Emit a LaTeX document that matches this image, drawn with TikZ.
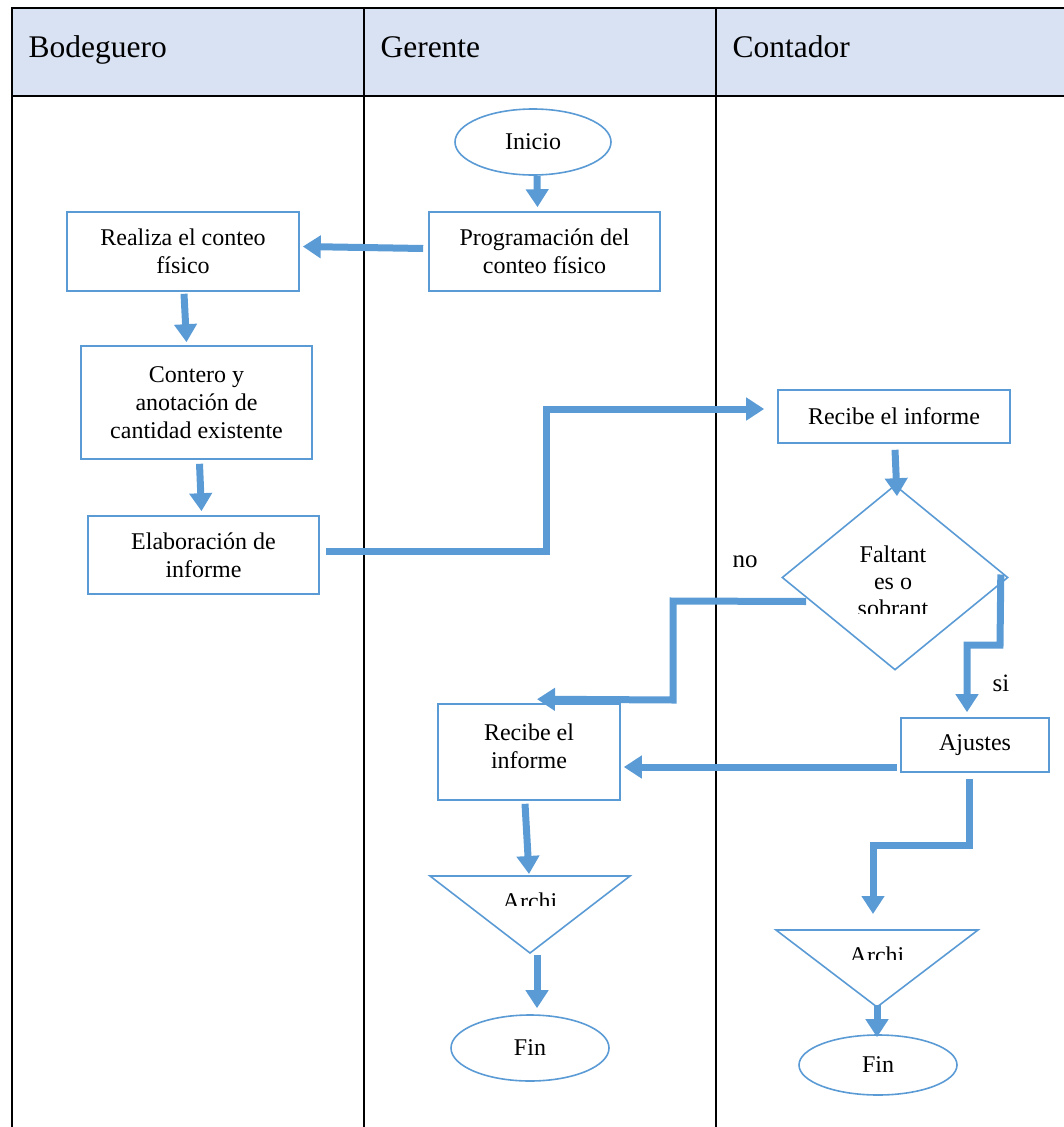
\documentclass[tikz,border=0pt]{standalone}
\usepackage{fontspec}
\setmainfont{Liberation Serif}
\usetikzlibrary{arrows.meta,shapes.geometric,calc}
\definecolor{flowblue}{HTML}{5B9BD5}
\definecolor{headfill}{HTML}{D9E2F3}
\begin{document}
\begin{tikzpicture}[x=1pt,y=-1pt,
  lane/.style={line width=2.2pt,black},
  headtext/.style={anchor=base west,font=\fontsize{31.5}{36}\selectfont},
  stepbox/.style={draw=flowblue,line width=1.6pt,fill=white,align=center,inner sep=0pt,
    font=\fontsize{24}{28}\selectfont},
  term/.style={ellipse,draw=flowblue,line width=1.6pt,fill=white,inner sep=0pt,
    font=\fontsize{24}{28}\selectfont},
  flow/.style={flowblue,line width=7pt,-{Triangle[width=22pt,length=18pt]}},
  lbl/.style={font=\fontsize{25}{28}\selectfont},
  bodytext/.style={font=\fontsize{24}{27}\selectfont,align=center}]
\useasboundingbox (0,0) rectangle (1064,1127);

% swimlane table
\fill[headfill] (12,8) rectangle (1064,96);
\draw[lane] (1064,8) -- (12,8) -- (12,1127);
\draw[lane] (12,96) -- (1064,96);
\draw[lane] (364,8) -- (364,1127);
\draw[lane] (716,8) -- (716,1127);
\node[headtext] (hb) at (25,57) {Bodeguero};
\node[headtext] (hg) at (377,57) {Gerente};
\node[headtext] (hc) at (729,57) {Contador};

% nodes
\node[term,minimum width=156pt,minimum height=66pt] (inicio) at (533,142) {Inicio};
\node[stepbox,minimum width=231pt,minimum height=79pt] (prog) at (544.5,251.5) {Programación del\\conteo físico};
\node[stepbox,minimum width=232pt,minimum height=79pt] (real) at (183,251.5) {Realiza el conteo\\físico};
\node[stepbox,minimum width=231pt,minimum height=113pt] (cont) at (196.5,402.5) {Contero y\\anotación de\\cantidad existente};
\node[stepbox,minimum width=231pt,minimum height=78pt] (elab) at (203.5,555) {Elaboración de\\informe};
\node[stepbox,minimum width=232pt,minimum height=53pt] (recc) at (894,416.5) {Recibe el informe};
\node[diamond,draw=flowblue,line width=1.6pt,fill=white,aspect=1.22,inner sep=0pt,
  minimum width=226pt,minimum height=185pt] (dec) at (895,577.5) {};
\node[stepbox,minimum width=182pt,minimum height=96pt,text depth=0pt] (recg) at (529,752)
  {\raisebox{28pt}{\begin{tabular}{@{}c@{}}Recibe el\\informe\end{tabular}}};
\node[stepbox,minimum width=148pt,minimum height=54pt] (ajus) at (975,745) {Ajustes};
\node[term,minimum width=158pt,minimum height=66pt] (fin1) at (530,1048) {Fin};
\node[term,minimum width=158pt,minimum height=60pt] (fin2) at (878,1065) {Fin};

% archive triangles
\draw[flowblue,line width=1.6pt,fill=white] (430,876) coordinate (a1l) -- (630,876) coordinate (a1r)
  -- (530,953) coordinate (a1b) -- cycle;
\coordinate (a1t) at (530,876);
\draw[flowblue,line width=1.6pt,fill=white] (776,930) coordinate (a2l) -- (978,930) coordinate (a2r)
  -- (877,1007) coordinate (a2b) -- cycle;
\coordinate (a2t) at (877,930);

% texts cut off by their shapes
\begin{scope}
  \clip (470,880) rectangle (590,905);
  \node[bodytext,anchor=base] (t1) at (530,909) {Archi};
\end{scope}
\begin{scope}
  \clip (815,934) rectangle (940,959);
  \node[bodytext,anchor=base] (t2) at (877,963) {Archi};
\end{scope}
\begin{scope}
  \clip (820,530) rectangle (970,613);
  \node[bodytext,anchor=base] (d1) at (893,562) {Faltant};
  \node[bodytext,anchor=base] (d2) at (893,589) {es o};
  \node[bodytext,anchor=base] (d3) at (893,616) {sobrant};
\end{scope}

% labels
\node[lbl] (no) at (745,562) {no};
\node[lbl] (si) at (1001,683) {si};

% connectors
\draw[flow] ($(inicio.south)+(4,0)$) -- ($(prog.north)+(-7,-4)$);
\draw[flow] ($(prog.west)+(-5,-3)$) -- ($(real.east)+(3,-5)$);
\draw[flow] ($(real.south)+(1,2)$) -- ($(cont.north)+(-10,-3)$);
\draw[flow] ($(cont.south)+(3,4)$) -- ($(elab.north)+(-2,-4)$);
\draw[flow] ($(elab.east)+(6,-4)$) -- (546,551) -- (546,409) -- ($(recc.west)+(-13,-7.5)$);
\draw[flow] ($(recc.south)+(1,6)$) -- ($(dec.north)+(2,12)$);
\draw[flow] ($(dec.west)+(25,24)$) -- (673,601) -- (673,700) -- ($(recg.north)+(8,-4)$);
\draw[flow] ($(dec.east)+(-8,-3)$) -- (1000,645) -- (967,645) -- ($(ajus.north)+(-8,-5)$);
\draw[flow] ($(ajus.west)+(-3,22)$) -- ($(recg.east)+(3,15)$);
\draw[flow] ($(recg.south)+(-4,3)$) -- ($(a1t)+(-1,-2)$);
\draw[flow] ($(a1b)+(7,2)$) -- ($(fin1.north)+(7,-6)$);
\draw[flow] ($(ajus.south)+(-6,6)$) -- (969,845) -- (873,845) -- ($(a2t)+(-4,-16)$);
\draw[flow] ($(a2b)+(0,-2)$) -- ($(fin2.north)+(-1,3)$);
\end{tikzpicture}
\end{document}
